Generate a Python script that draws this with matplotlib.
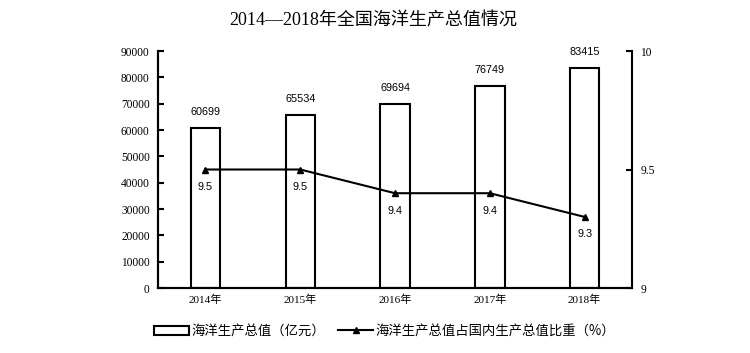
import matplotlib.pyplot as plt
from matplotlib.patches import Patch
from matplotlib.lines import Line2D

years = ["2014年", "2015年", "2016年", "2017年", "2018年"]
output_values = [60699, 65534, 69694, 76749, 83415]
gdp_share = [9.5, 9.5, 9.4, 9.4, 9.3]

serif_cjk = ["Liberation Serif", "Noto Sans CJK SC"]
sans_cjk = ["Noto Sans CJK SC", "DejaVu Sans"]

fig = plt.figure(figsize=(7.5, 3.53), dpi=100)
ax = fig.add_axes([0.2107, 0.1841, 0.632, 0.6714])
ax2 = ax.twinx()

x = list(range(len(years)))
ax.bar(x, output_values, width=0.31, facecolor="white", edgecolor="black", linewidth=1.5, zorder=2)
for xi, v in zip(x, output_values):
    ax.annotate(str(v), (xi, v), xytext=(0, 8), textcoords="offset points",
                ha="center", va="bottom", fontsize=7.8, family="Liberation Sans")

ax.set_xlim(-0.5, 4.5)
ax.set_ylim(0, 90000)
ax.set_yticks(range(0, 90001, 10000))
ax.set_xticks(x)
ax.set_xticklabels(years, family=serif_cjk, fontsize=8)
for lbl in ax.get_yticklabels():
    lbl.set_family("Liberation Serif")
    lbl.set_fontsize(8.3)
ax.tick_params(axis="y", direction="in", length=4, width=1.5, pad=6)
ax.tick_params(axis="x", length=0, pad=5)

ax2.plot(x, gdp_share, color="black", linewidth=1.5, marker="^", markersize=5, zorder=3)
for xi, v in zip(x, gdp_share):
    ax2.annotate(f"{v}", (xi, v), xytext=(0, -9), textcoords="offset points",
                 ha="center", va="top", fontsize=7.8, family="Liberation Sans")
ax2.set_ylim(9, 10)
ax2.set_yticks([9, 9.5, 10])
ax2.set_yticklabels(["9", "9.5", "10"], family="Liberation Serif", fontsize=8.3)
ax2.tick_params(axis="y", direction="in", length=4, width=1.5, pad=6)

for a in (ax, ax2):
    a.spines["top"].set_visible(False)
    for s in ("left", "right", "bottom"):
        a.spines[s].set_linewidth(1.5)
ax.spines["right"].set_visible(False)

fig.text(0.497, 0.94, "2014—2018年全国海洋生产总值情况", ha="center", va="center",
         fontsize=13, family=serif_cjk)

handles = [
    Patch(facecolor="white", edgecolor="black", linewidth=1.5),
    Line2D([0], [0], color="black", linewidth=1.5, marker="^", markersize=4),
]
labels = ["海洋生产总值（亿元）", "海洋生产总值占国内生产总值比重（%）"]
fig.legend(handles, labels, loc="center", bbox_to_anchor=(0.513, 0.062), ncol=2,
           frameon=False, prop={"family": sans_cjk, "size": 9.6},
           handlelength=2.6, handletextpad=0.2, columnspacing=1.0)

fig.savefig("out.png", dpi=100)
